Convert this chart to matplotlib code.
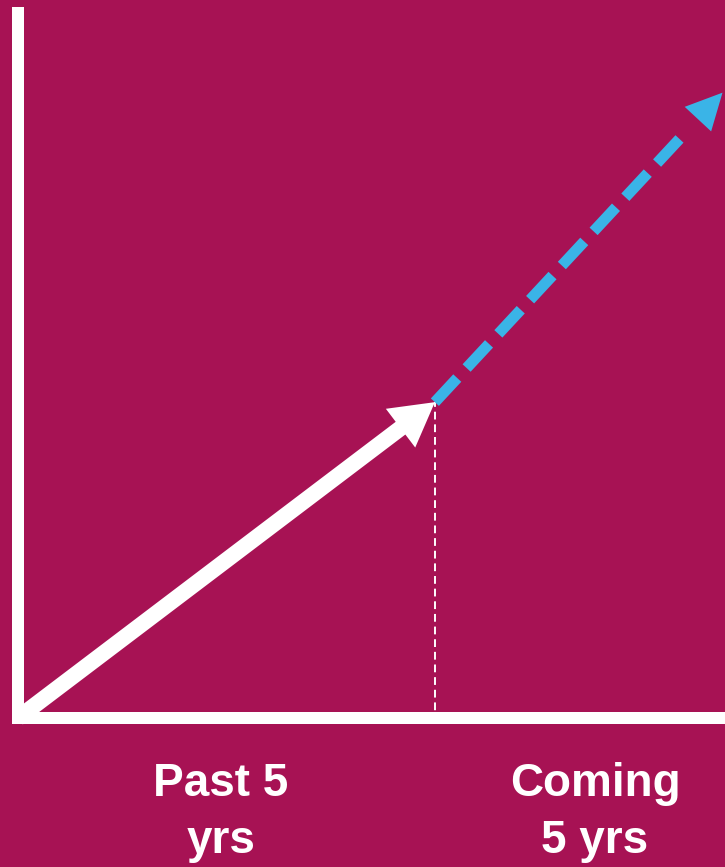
import matplotlib
matplotlib.use("Agg")
import matplotlib.pyplot as plt

# data: trend over past 5 years, projected over coming 5 years
years = [0, 5, 8.45]
growth = [0, 4.48, 8.87]
period_labels = ["Past 5\nyrs", "Coming\n5 yrs"]
label_pos = [2.43, 6.92]

bg = "#A71254"
blue = "#3AB4E7"

fig = plt.figure(figsize=(7.25, 8.67), dpi=100, facecolor=bg)
ax = fig.add_axes([18 / 725, (867 - 718) / 867, 1 - 18 / 725, (718 - 13) / 867])
ax.set_facecolor(bg)
ax.set_xlim(0, 8.48)
ax.set_ylim(0, 10)

for side in ["top", "right"]:
    ax.spines[side].set_visible(False)
for side in ["left", "bottom"]:
    ax.spines[side].set_color("white")
    ax.spines[side].set_linewidth(8.64)
    ax.spines[side].set_capstyle("projecting")

ax.set_yticks([])
ax.set_xticks(label_pos, period_labels)
ax.tick_params(axis="x", length=0, pad=32, labelcolor="white")
for lab in ax.get_xticklabels():
    lab.set_fontfamily("Liberation Sans")
    lab.set_fontweight("bold")
    lab.set_fontsize(33)
    lab.set_linespacing(1.38)

# thin dashed guide at the end of the past period
ax.plot([years[1], years[1]], [growth[1], growth[0]], color="white", lw=1.4,
        linestyle=(8, (4, 2.5)))

# past trend: solid white arrow
ax.annotate("", xy=(years[1], growth[1]), xytext=(years[0], growth[0]),
            arrowprops=dict(arrowstyle="-", lw=11.5, color="white",
                            shrinkA=0, shrinkB=20, capstyle="butt"))
ax.annotate("", xy=(years[1], growth[1]), xytext=(years[0], growth[0]),
            arrowprops=dict(arrowstyle="-|>,head_length=3.1,head_width=1.75",
                            mutation_scale=10, lw=0, color="white",
                            shrinkA=0, shrinkB=0))

# projection: dashed blue arrow
ax.annotate("", xy=(years[2], growth[2]), xytext=(years[1], growth[1]),
            arrowprops=dict(arrowstyle="-", lw=7.9, color=blue,
                            linestyle=(0, (3.0, 1.25)),
                            shrinkA=0, shrinkB=38, capstyle="butt"))
ax.annotate("", xy=(years[2], growth[2]), xytext=(years[1], growth[1]),
            arrowprops=dict(arrowstyle="-|>,head_length=2.6,head_width=1.3",
                            mutation_scale=10, lw=0, color=blue,
                            shrinkA=0, shrinkB=0))

fig.savefig("out.png", dpi=100, facecolor=bg)
